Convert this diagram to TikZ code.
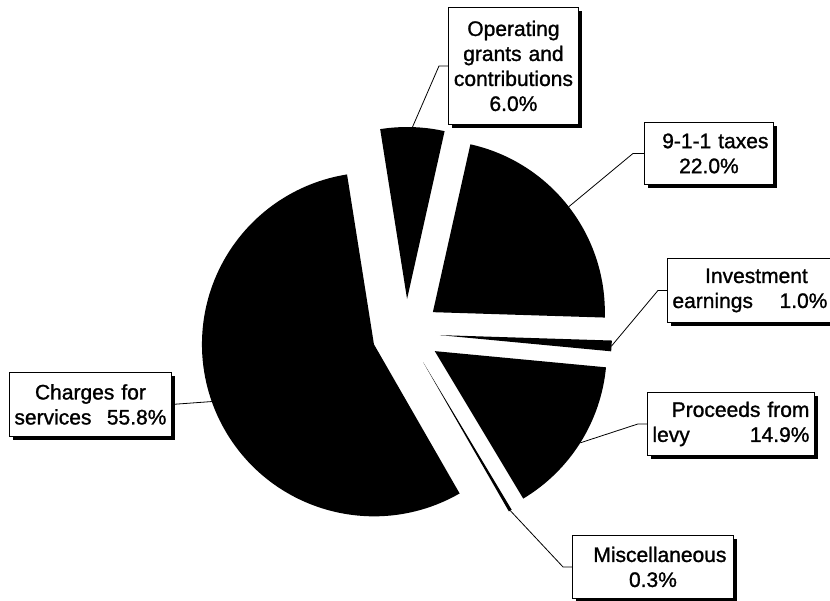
\documentclass[tikz,border=0pt]{standalone}
\usepackage{fontspec}
\setmainfont[FakeBold=1.2]{Liberation Sans}
\usetikzlibrary{calc,shadows}
\newcommand\lblfont{\fontsize{21}{25}\selectfont}
\begin{document}
\begin{tikzpicture}[x=1pt,y=1pt,
  lbl/.style={draw=black, line width=0.9pt, fill=white, inner xsep=5pt, inner ysep=0pt,
    align=center, font=\lblfont, anchor=north west,
    general shadow={fill=black, shadow xshift=4pt, shadow yshift=-4pt}},
  lead/.style={draw=black, line width=0.8pt},
  slicefill/.style={fill=black}]
\useasboundingbox (0,0) rectangle (830,600);
\coordinate (C) at (406,267);
% pie slices (exploded)
\foreach \s/\e in {99/77.4, 77.4/-1.8, -1.8/-5.4, -5.4/-59.04, -59.04/-60.12, -60.12/-261}{
  \pgfmathsetmacro\m{(\s+\e)/2}
  \fill[slicefill] ($(C)+(\m:34)$) -- ++(\s:172) arc[start angle=\s, end angle=\e, radius=172] -- cycle;
}
% leader end points on the slices
\coordinate (eop) at ($(C)+(88.2:206)$);
\coordinate (etx) at ($(C)+(37.8:206)$);
\coordinate (einv) at ($(C)+(-3.6:206)$);
\coordinate (epr) at ($(C)+(-32.22:206)$);
\coordinate (emi) at ($(C)+(-59.58:206)$);
\coordinate (ech) at ($(C)+(199.44:206)$);
% labels
\node[lbl, text width=120pt, minimum height=117pt] (op) at (448,593)
  {Operating\\grants and\\contributions\\6.0\%};
\node[lbl, text width=119pt, minimum height=62pt] (tx) at (644,478)
  {\makebox[119pt][r]{9-1-1 taxes}\\22.0\%};
\node[lbl, text width=155pt, minimum height=64pt] (inv) at (667,342)
  {\makebox[155pt]{\hspace{13pt}Investment}\\\makebox[155pt]{earnings\hfill 1.0\%}};
\node[lbl, text width=157pt, minimum height=63pt] (pr) at (647,208)
  {\makebox[157pt][r]{Proceeds from}\\\makebox[157pt]{levy\hfill 14.9\%}};
\node[lbl, text width=151pt, minimum height=63pt] (mi) at (572,65)
  {\makebox[151pt][r]{Miscellaneous\hspace{2pt}}\\0.3\%};
\node[lbl, text width=152pt, minimum height=64pt] (ch) at (9,228)
  {Charges for\\\makebox[152pt]{services\hfill 55.8\%}};
% leaders
\draw[lead] (op.west) -- ++(-9,0) -- (eop);
\draw[lead] (tx.west) -- ++(-11,0) -- (etx);
\draw[lead] (inv.west) -- ++(-9,0) -- (einv);
\draw[lead] (pr.west) -- ++(-9,0) -- (epr);
\draw[lead] (mi.west) -- ++(-9,0) -- (emi);
\draw[lead] (ch.east) -- (ech);
\end{tikzpicture}
\end{document}
